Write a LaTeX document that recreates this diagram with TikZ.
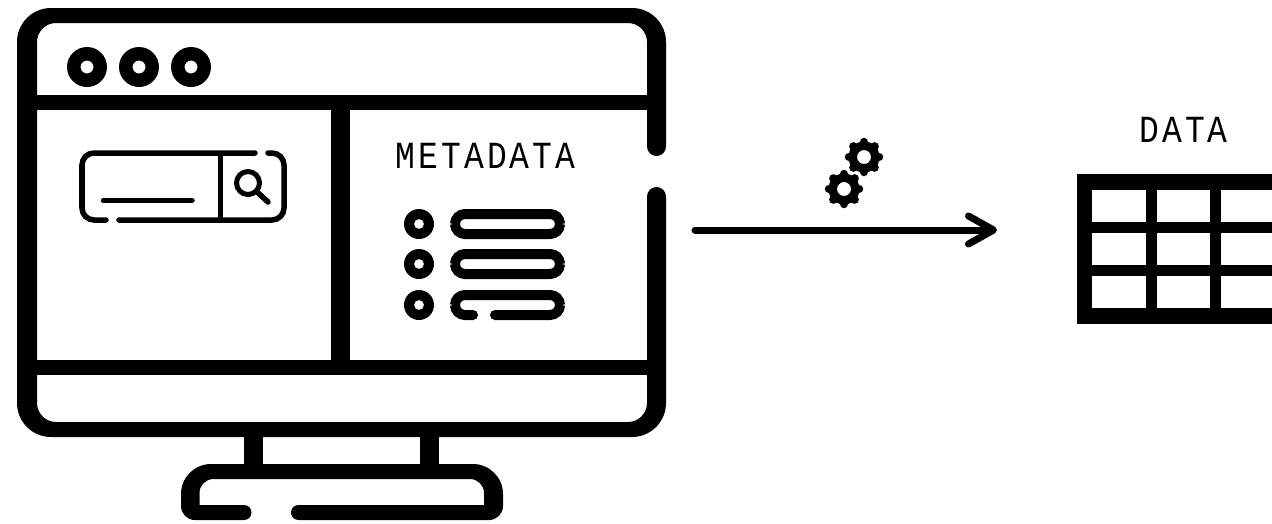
\documentclass[tikz,border=0pt]{standalone}
\usepackage{fontspec}
\usetikzlibrary{arrows.meta}
\newfontfamily\labelfont[FakeStretch=0.86,LetterSpace=8]{Liberation Mono}
\tikzset{
	thinline/.style={line width=0.055cm, line cap=round},
	listline/.style={line width=0.1cm, line cap=round, rounded corners=0.1cm},
	edgecap/.style={line width=0.19cm, line cap=round},
	footcap/.style={line width=0.15cm, line cap=round},
	label/.style={font=\labelfont\fontsize{10.9pt}{12pt}\selectfont},
	dot/.style={fill=black, even odd rule}
}
\def\geardraw(#1,#2){
	\begin{scope}[shift={(#1,#2)}]
		\fill[even odd rule] (0,0) circle (15.5) (0,0) circle (7);
		\foreach \a in {0,45,...,315}
			\draw[line width=0.085cm, line cap=round] (\a:14) -- (\a:15);
	\end{scope}
}

\begin{document}
\begin{tikzpicture}[x=0.01cm, y=-0.01cm]
	\useasboundingbox (0,0) rectangle (1272,524);

	%%%%% SCREEN %%%%%
	\fill[even odd rule, rounded corners=0.34cm] (17,8) rectangle (666,437)
		[rounded corners=0.19cm] (37,23) rectangle (647,422);
	\fill (37,95) rectangle (647,110);
	\fill (37,360) rectangle (647,375);
	\fill (331,110) rectangle (350,360);
	\fill[white] (640,146) rectangle (670,197);
	\draw[edgecap] (656.5,146.5) -- (656.5,125);
	\draw[edgecap] (656.5,196.5) -- (656.5,220);

	\foreach \x in {87,139,191}
		\fill[dot] (\x,67) circle (20) (\x,67) circle (6.5);

	%%%%% SEARCH %%%%%
	\draw[thinline, rounded corners=0.12cm] (255,153) -- (82,153) -- (82,220) -- (106,220);
	\draw[thinline, rounded corners=0.12cm] (119,220) -- (284,220) -- (284,153) -- (268,153);
	\draw[line width=0.05cm] (220,153) -- (220,220);
	\draw[thinline] (103.5,200.5) -- (192,200.5);
	\draw[line width=0.05cm] (248,183) circle (11.5);
	\draw[thinline] (256,191) -- (268,202);

	%%%%% LIST %%%%%
	\foreach \y in {224,264,305}
		\fill[dot] (419,\y) circle (15) (419,\y) circle (5);
	\draw[listline] (455,214) rectangle (560,234);
	\draw[listline] (455,254) rectangle (560,274);
	\draw[listline] (473,315) -- (455,315) -- (455,295) -- (560,295) -- (560,315) -- (495,315);
	\node[label] (metadatalabel) at (485.5,156) {METADATA};

	%%%%% STAND %%%%%
	\fill (244,437) rectangle (263,470);
	\fill (420,437) rectangle (439,470);
	\fill[even odd rule] [rounded corners=0.3cm] (340,464) -- (503,464) [rounded corners=0.14cm] -- (503,520) -- (181,520) [rounded corners=0.3cm] -- (181,464) -- cycle
		(199.5,505) [rounded corners=0.14cm] -- (199.5,479) -- (484,479) [sharp corners] -- (484,505) -- cycle;
	\fill[white] (244,503) rectangle (298.5,522);
	\draw[footcap] (244,512.5) -- (235,512.5);
	\draw[footcap] (298.5,512.5) -- (310,512.5);

	%%%%% ARROW %%%%%
	\coordinate (arrowstart) at (695,230);
	\coordinate (arrowend) at (997,230);
	\draw[line width=0.07cm, line cap=round, -{Straight Barb[length=0.25cm, width=0.28cm, round]}] (arrowstart) -- (arrowend);
	\geardraw(864,157)
	\geardraw(844,189)

	%%%%% TABLE %%%%%
	\fill (1077,174) rectangle (1272,324);
	\foreach \y/\yy in {190/222,233/265,276/308}
		\foreach \x/\xx in {1092/1146,1157/1210,1221/1272}
			\fill[white] (\x,\y) rectangle (\xx,\yy);
	\node[label] (datalabel) at (1183.5,129.5) {DATA};
\end{tikzpicture}
\end{document}
